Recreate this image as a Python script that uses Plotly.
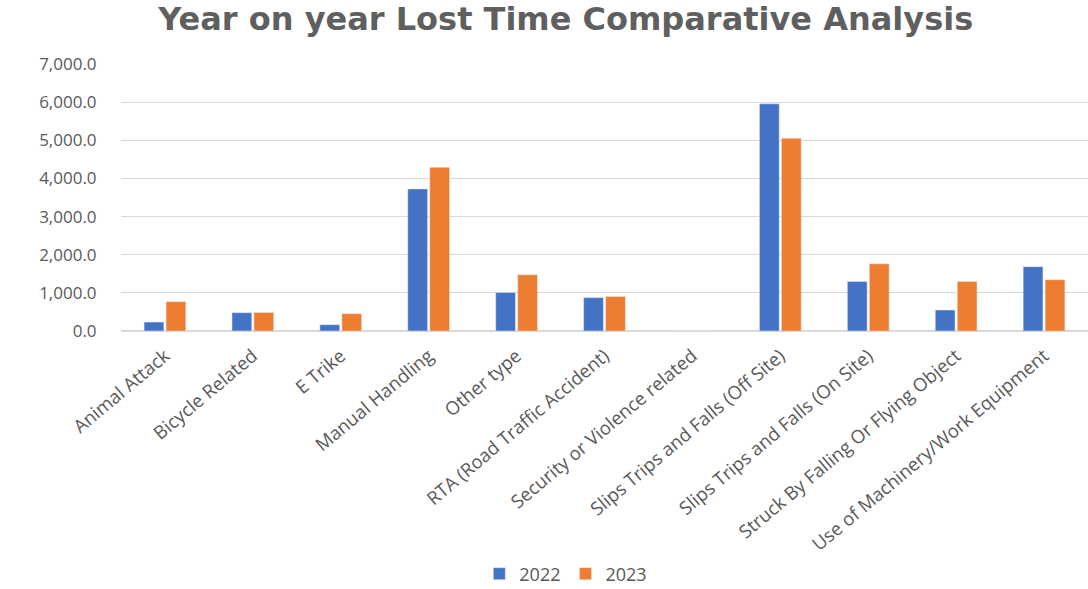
import plotly.graph_objects as go

categories = ["Animal Attack", "Bicycle Related", "E Trike", "Manual Handling", "Other type",
              "RTA (Road Traffic Accident)", "Security or Violence related",
              "Slips Trips and Falls (Off Site)", "Slips Trips and Falls (On Site)",
              "Struck By Falling Or Flying Object", "Use of Machinery/Work Equipment"]
values_2022 = [235, 480, 165, 3725, 1010, 875, 0, 5955, 1300, 550, 1685]
values_2023 = [770, 485, 455, 4290, 1475, 905, 0, 5055, 1760, 1300, 1345]
series_names = ["2022", "2023"]

gray = "#595959"
fig = go.Figure()
fig.add_trace(go.Bar(x=categories, y=values_2022, name=series_names[0], marker_color="#4472C4"))
fig.add_trace(go.Bar(x=categories, y=values_2023, name=series_names[1], marker_color="#ED7D31"))

fig.update_layout(
    width=1088, height=589,
    margin=dict(l=121, r=0, t=64, b=258, autoexpand=False),
    paper_bgcolor="white", plot_bgcolor="white",
    barmode="group", bargap=0.5, bargroupgap=0.1,
    title=dict(text="<b>Year on year Lost Time Comparative Analysis</b>",
               x=0.52, xanchor="center", y=0.968, yanchor="middle",
               font=dict(family="DejaVu Sans", size=32, color="#5f5f5f")),
    font=dict(family="Open Sans", color=gray),
    legend=dict(orientation="h", x=0.46, xanchor="center", y=-0.91, yanchor="middle",
                font=dict(size=18, color=gray), traceorder="normal", itemwidth=30),
    showlegend=True,
)
fig.update_yaxes(range=[0, 7000], dtick=1000, tickformat=",.1f", automargin=False,
                 gridcolor="#d9d9d9", gridwidth=1, zeroline=True, zerolinecolor="#d9d9d9",
                 ticks="outside", ticklen=20, tickcolor="white",
                 tickfont=dict(size=17, color=gray), showline=False)
fig.update_xaxes(tickangle=-40, tickfont=dict(size=18.5, color=gray), showline=False, automargin=False,
                 ticks="outside", ticklen=6, tickcolor="white", showgrid=False)

fig.write_html("out.html")
